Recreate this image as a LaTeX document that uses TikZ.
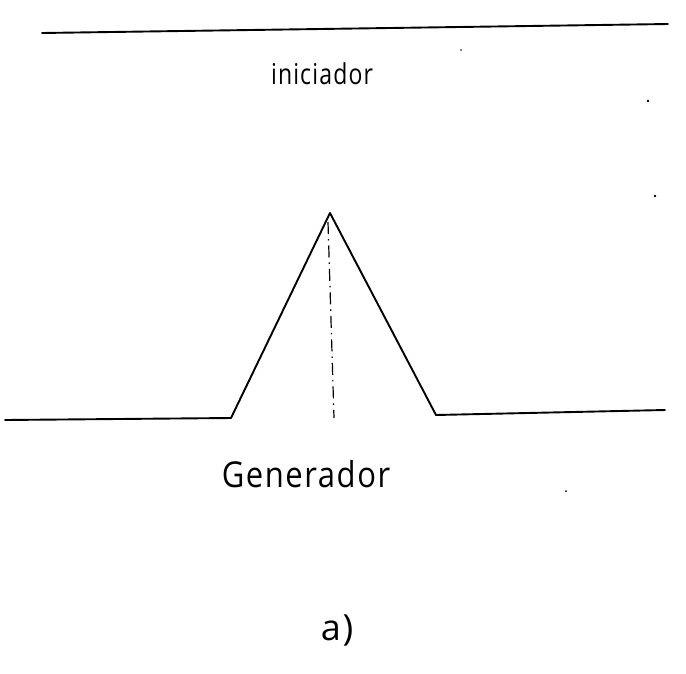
\documentclass[tikz,border=0pt]{standalone}
\usepackage{fontspec}
\usepackage{graphicx}
\setmainfont{Open Sans}[LetterSpace=5]
\begin{document}
\begin{tikzpicture}[x=1pt,y=-1pt,
  stroke/.style={line width=1.9pt,line join=round,line cap=round},
  axisline/.style={line width=1.2pt,dash pattern=on 12pt off 5pt on 1.5pt off 5pt},
  hand/.style={inner sep=0pt,anchor=base},
  speck/.style={fill=black,draw=none}]
\useasboundingbox (0,0) rectangle (686,673);
% initiator
\coordinate (i1) at (42,33);
\coordinate (i2) at (668,24);
\draw[stroke] (i1) -- (i2);
\node[hand] (tini) at (322,84) {\scalebox{1}[1.25]{\fontsize{23}{28}\selectfont iniciador}};
% generator
\coordinate (g0) at (5,420);
\coordinate (g1) at (231,418);
\coordinate (g2) at (330,213);
\coordinate (g3) at (436,415);
\coordinate (g4) at (665,410);
\draw[stroke] (g0) -- (g1) -- (g2) -- (g3) -- (g4);
\coordinate (d1) at (328,222);
\coordinate (d2) at (334,418);
\draw[axisline] (d1) -- (d2);
\node[hand] (tgen) at (306,487) {\scalebox{1}[1.15]{\fontsize{31}{36}\selectfont Generador}};
\node[hand] (ta) at (337,640) {\fontsize{36}{40}\selectfont a)};
% specks
\fill[speck] (648,101) circle (1.3pt);
\fill[speck] (655,196) circle (1.3pt);
\fill[speck] (566,491) circle (1pt);
\fill[speck] (461,50) circle (0.8pt);
\end{tikzpicture}
\end{document}
